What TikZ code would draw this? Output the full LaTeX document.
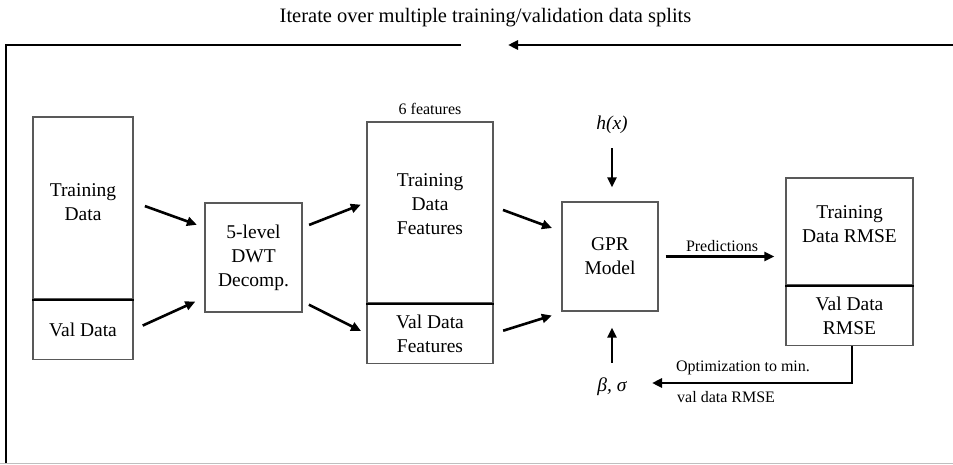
\documentclass[tikz,border=0pt]{standalone}
\usepackage{fontspec}
\setmainfont{Liberation Serif}
\usepackage{tikz}
\usetikzlibrary{positioning,arrows.meta}
\newcommand{\bigtxt}{\fontsize{19.5}{24}\selectfont}
\newcommand{\smalltxt}{\fontsize{16}{19}\selectfont}

\begin{document}
\begin{tikzpicture}[
  x=1pt, y=-1pt,
  node distance=0pt,
  blk/.style={draw=black!65, line width=1.2pt, align=center, font=\bigtxt,
              inner sep=0pt},
  txt/.style={align=center, font=\bigtxt, inner sep=0pt},
  lbl/.style={font=\smalltxt, inner sep=1pt},
  arw/.style={-{Triangle[length=10pt,width=9pt]}, line width=2.6pt},
  split/.style={line width=2pt}
]
\useasboundingbox (0,0) rectangle (953,465);
\draw[black!25, line width=1.5pt] (0,463.5) -- (953,463.5);

% loop frame
\node[font=\fontsize{20.5}{24}\selectfont] (iter) at (485.5,18)
  {Iterate over multiple training/validation data splits};
\coordinate (loopR) at (953,45);
\coordinate (loopM) at (508,45);
\coordinate (loopL) at (461,45);
\coordinate (loopB) at (6,463);
\draw[arw] (loopR) -- (loopM);
\draw[line width=2.8pt] (loopL) -| (loopB);

% blocks
\node[blk, minimum width=100pt, minimum height=182pt,
  label={[txt, yshift=6pt]center:{Training\\Data}}] (trn) at (83,208) {};
\node[blk, minimum width=100pt, minimum height=59pt, below=of trn] (val)
  {Val Data};
\node[blk, minimum width=97pt, minimum height=109pt] (dwt) at (253.5,257.5)
  {5-level\\DWT\\Decomp.};
\node[blk, minimum width=126pt, minimum height=181pt,
  label={[txt, yshift=8pt]center:{Training\\Data\\Features}}] (tdf) at (430,212.5) {};
\node[blk, minimum width=126pt, minimum height=59pt, below=of tdf] (vdf)
  {Val Data\\Features};
\node[lbl, above=6pt of tdf] (nfeat) {6 features};
\node[blk, minimum width=96pt, minimum height=109pt] (gpr) at (610,256.5)
  {GPR\\Model};
\node[font=\bigtxt\itshape] (hx) at (612,125) {h(x)};
\node[font=\bigtxt\itshape] (bs) at (612,387) {β, σ};
\node[blk, minimum width=127pt, minimum height=107pt,
  label={[txt, yshift=7pt]center:{Training\\Data RMSE}}] (trm) at (849.5,231.5) {};
\node[blk, minimum width=127pt, minimum height=59pt, below=of trm] (vrm)
  {Val Data\\RMSE};
\draw[split] (trn.south west) -- (trn.south east);
\draw[split] (tdf.south west) -- (tdf.south east);
\draw[split] (trm.south west) -- (trm.south east);

% connectors
\draw[arw, shorten <=12pt, shorten >=8pt] ([yshift=6pt]trn.east) -- ([yshift=30pt]dwt.west);
\draw[arw, shorten <=10pt, shorten >=10pt] (val.east) -- ([yshift=-40pt]dwt.west);
\draw[arw, shorten <=7pt, shorten >=6pt] ([yshift=30pt]dwt.east) -- ([yshift=10pt]tdf.west);
\draw[arw, shorten <=7pt, shorten >=6pt] ([yshift=-44pt]dwt.east) -- (vdf.west);
\draw[arw, shorten <=10pt, shorten >=10pt] ([yshift=6pt]tdf.east) -- ([yshift=25pt]gpr.west);
\draw[arw, shorten <=10pt, shorten >=10pt] (vdf.east) -- ([yshift=-56pt]gpr.west);
\draw[arw, shorten <=11pt, shorten >=14pt] (hx.south) -- (hx.south |- gpr.north);
\draw[arw, shorten <=12pt, shorten >=16pt] (bs.north) -- (bs.north |- gpr.south);
\draw[arw, shorten <=7pt, shorten >=11pt] (gpr.east) -- (gpr.east -| trm.west)
  node[lbl, midway, above=3pt] (pred) {Predictions};
\coordinate (opt) at (652,383);
\draw[arw] ([xshift=2.5pt]vrm.south) |- (opt);
\node[lbl] (optlbl) at (743,368) {Optimization to min.};
\node[lbl, anchor=west] (vallbl) at (676,397) {val data RMSE};
\end{tikzpicture}
\end{document}
